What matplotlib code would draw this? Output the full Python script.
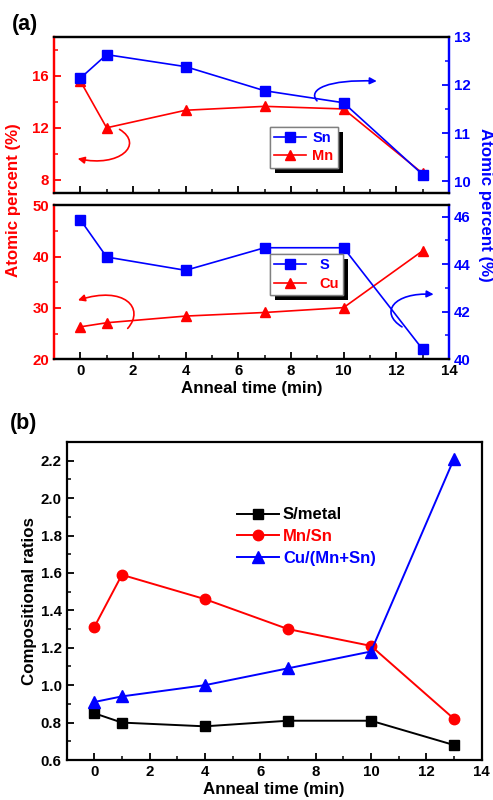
import matplotlib.pyplot as plt
import matplotlib.patheffects as pe
from matplotlib.lines import Line2D
from matplotlib.patches import FancyArrowPatch
from matplotlib.path import Path
from matplotlib.ticker import MultipleLocator

plt.rcParams['font.family'] = ['Liberation Sans', 'DejaVu Sans']
plt.rcParams['font.weight'] = 'bold'

######### Data #########
anneal_time = [0, 1, 4, 7, 10, 13]

# panel (a), upper: Mn on left axis, Sn on right axis
mn_pct = [15.6, 12.0, 13.35, 13.65, 13.45, 8.5]
sn_pct = [12.14, 12.63, 12.38, 11.88, 11.63, 10.14]

# panel (a), lower: Cu on left axis, S on right axis
cu_pct = [26.3, 27.1, 28.4, 29.1, 30.05, 41.1]
s_pct = [45.87, 44.30, 43.74, 44.69, 44.69, 40.42]

# panel (b): compositional ratios
s_metal = [0.85, 0.80, 0.78, 0.81, 0.81, 0.68]
mn_sn = [1.31, 1.59, 1.46, 1.30, 1.21, 0.82]
cu_mnsn = [0.91, 0.94, 1.00, 1.09, 1.18, 2.21]

RED = '#ff0000'
BLUE = '#0000ff'
TICK_FS = 10.8
LABEL_FS = 12.2
SHADOW = [pe.withSimplePatchShadow(offset=(3.5, -3.5), shadow_rgbFace='black', alpha=1),
          pe.Normal()]


def set_ticks(ax, color='black'):
    ax.tick_params(which='both', direction='in', labelsize=TICK_FS, colors=color, labelcolor=color)
    ax.tick_params(which='major', length=5, width=1.3)
    ax.tick_params(which='minor', length=3, width=1.1)
    for side in ['top', 'bottom', 'left', 'right']:
        ax.spines[side].set_linewidth(1.6)


def twin_panel(ax, left_y, right_y, left_marker, right_marker):
    ax.plot(anneal_time, left_y, color=RED, marker=left_marker, ms=7, lw=1.2)
    ax2 = ax.twinx()
    ax2.plot(anneal_time, right_y, color=BLUE, marker=right_marker, ms=6.5, lw=1.2)
    ax.set_xlim(-1, 14)
    ax.xaxis.set_major_locator(MultipleLocator(2))
    ax.xaxis.set_minor_locator(MultipleLocator(1))
    set_ticks(ax)
    ax.tick_params(axis='y', which='both', colors=RED, labelcolor=RED)
    set_ticks(ax2, BLUE)
    for a in (ax, ax2):
        a.spines['left'].set_color(RED)
        a.spines['right'].set_color(BLUE)
    return ax2


def curved_arrow(ax, pts, color):
    # pts: start, two bezier controls, end (data coords of the axis it points to)
    path = Path(pts, [Path.MOVETO, Path.CURVE4, Path.CURVE4, Path.CURVE4])
    arr = FancyArrowPatch(path=path, arrowstyle='-|>', color=color, lw=1.2,
                          mutation_scale=10, transform=ax.transData)
    ax.add_patch(arr)


def boxed_legend(ax, labels, colors, anchor, pad):
    handles = [Line2D([], [], color=BLUE, marker='s', ms=6.5, lw=1.2),
               Line2D([], [], color=RED, marker='^', ms=7, lw=1.2)]
    leg = ax.legend(handles, labels, loc='lower left', bbox_to_anchor=anchor,
                    borderaxespad=0, fontsize=10.5, fancybox=False, edgecolor='gray',
                    framealpha=1, handlelength=2.2, borderpad=0.3, labelspacing=0.3,
                    handletextpad=pad)
    leg.get_frame().set_path_effects(SHADOW)
    for txt, c in zip(leg.get_texts(), colors):
        txt.set_color(c)
    return leg


fig = plt.figure(figsize=(4.93, 8), dpi=100)

# ---- (a) upper ----
ax_a1 = fig.add_axes([0.1095, 0.759, 0.801, 0.195])
ax_a1r = twin_panel(ax_a1, mn_pct, sn_pct, '^', 's')
ax_a1.set_ylim(7, 19)
ax_a1.yaxis.set_major_locator(MultipleLocator(4))
ax_a1.yaxis.set_minor_locator(MultipleLocator(2))
ax_a1r.set_ylim(9.76, 13)
ax_a1r.yaxis.set_major_locator(MultipleLocator(1))
ax_a1r.yaxis.set_minor_locator(MultipleLocator(0.5))
ax_a1.tick_params(axis='x', labelbottom=False)
boxed_legend(ax_a1r, ['Sn', 'Mn'], [BLUE, RED], (0.547, 0.16), 0.4)

curved_arrow(ax_a1, [(1.49, 11.88), (2.44, 10.71), (1.49, 8.93), (-0.10, 9.63)], RED)
curved_arrow(ax_a1r, [(8.99, 11.67), (8.61, 11.91), (9.44, 12.12), (11.26, 12.08)], BLUE)

# ---- (a) lower ----
ax_a2 = fig.add_axes([0.1095, 0.551, 0.801, 0.1925])
ax_a2r = twin_panel(ax_a2, cu_pct, s_pct, '^', 's')
ax_a2.set_ylim(20, 50)
ax_a2.yaxis.set_major_locator(MultipleLocator(10))
ax_a2.yaxis.set_minor_locator(MultipleLocator(5))
ax_a2r.set_ylim(40, 46.48)
ax_a2r.yaxis.set_major_locator(MultipleLocator(2))
ax_a2r.yaxis.set_minor_locator(MultipleLocator(1))
ax_a2.set_xlabel('Anneal time (min)', fontsize=LABEL_FS, fontweight='bold', labelpad=2)
boxed_legend(ax_a2r, ['S', 'Cu'], [BLUE, RED], (0.547, 0.416), 0.9)

curved_arrow(ax_a2, [(1.80, 26.0), (2.47, 29.92), (1.68, 34.40), (-0.09, 31.48)], RED)
curved_arrow(ax_a2r, [(12.22, 41.36), (11.34, 41.97), (11.91, 42.82), (13.42, 42.73)], BLUE)

# shared y labels for (a)
fig.text(0.027, 0.75, 'Atomic percent (%)', rotation=90, color=RED, fontsize=LABEL_FS,
         fontweight='bold', ha='center', va='center')
fig.text(0.985, 0.744, 'Atomic percent (%)', rotation=270, color=BLUE, fontsize=LABEL_FS,
         fontweight='bold', ha='center', va='center')
fig.text(0.024, 0.969, '(a)', fontsize=15.5, fontweight='bold', va='center')

# ---- (b) ----
ax_b = fig.add_axes([0.135, 0.05, 0.842, 0.3975])
ax_b.plot(anneal_time, s_metal, color='black', marker='s', ms=6.5, lw=1.4, label='S/metal')
ax_b.plot(anneal_time, mn_sn, color=RED, marker='o', ms=7.5, lw=1.4, label='Mn/Sn')
ax_b.plot(anneal_time, cu_mnsn, color=BLUE, marker='^', ms=8, lw=1.4, label='Cu/(Mn+Sn)')
ax_b.set_xlim(-1, 14)
ax_b.set_ylim(0.6, 2.3)
ax_b.xaxis.set_major_locator(MultipleLocator(2))
ax_b.xaxis.set_minor_locator(MultipleLocator(1))
ax_b.yaxis.set_major_locator(MultipleLocator(0.2))
ax_b.yaxis.set_minor_locator(MultipleLocator(0.1))
ax_b.yaxis.set_major_formatter(plt.FormatStrFormatter('%.1f'))
set_ticks(ax_b)
ax_b.tick_params(top=False, right=False)
ax_b.set_xlabel('Anneal time (min)', fontsize=LABEL_FS, fontweight='bold', labelpad=2)
ax_b.set_ylabel('Compositional ratios', fontsize=LABEL_FS, fontweight='bold', labelpad=3)
leg = ax_b.legend(loc='upper left', bbox_to_anchor=(0.395, 0.815), frameon=False,
                  fontsize=12, handlelength=2.5, labelspacing=0.4, borderaxespad=0,
                  handletextpad=0.25)
for txt, c in zip(leg.get_texts(), ['black', RED, BLUE]):
    txt.set_color(c)
fig.text(0.02, 0.471, '(b)', fontsize=15.5, fontweight='bold', va='center')

fig.savefig('out.png', dpi=100)
